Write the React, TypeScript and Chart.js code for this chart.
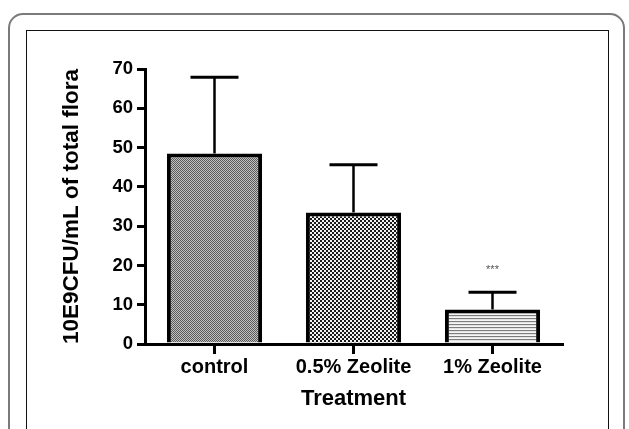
import React, { useEffect, useRef } from "react";
import { Chart, registerables } from "chart.js";

Chart.register(...registerables);

const categories = ["control", "0.5% Zeolite", "1% Zeolite"];
const means = [48.5, 33.5, 8.8];
const errors = [19.4, 12.1, 4.4];
const significance = ["", "", "***"];
const yTicks = [0, 10, 20, 30, 40, 50, 60, 70];
const yTitle = "10E9CFU/mL of total flora";
const xTitle = "Treatment";

const FONT = "'Liberation Sans', Arial, Helvetica, sans-serif";

function makePattern(kind: number): CanvasPattern | string {
  const c = document.createElement("canvas");
  if (kind === 0) {
    c.width = 2;
    c.height = 2;
    const ctx = c.getContext("2d")!;
    ctx.fillStyle = "#c2c2c2";
    ctx.fillRect(0, 0, 2, 2);
    ctx.fillStyle = "#5a5a5a";
    ctx.fillRect(0, 0, 1, 1);
    ctx.fillRect(1, 1, 1, 1);
    return ctx.createPattern(c, "repeat") || "#999";
  }
  if (kind === 1) {
    c.width = 4;
    c.height = 4;
    const ctx = c.getContext("2d")!;
    ctx.fillStyle = "#f2f2f2";
    ctx.fillRect(0, 0, 4, 4);
    ctx.fillStyle = "#1a1a1a";
    ctx.fillRect(0, 0, 2, 2);
    ctx.fillRect(2, 2, 2, 2);
    return ctx.createPattern(c, "repeat") || "#888";
  }
  c.width = 1;
  c.height = 3;
  const ctx = c.getContext("2d")!;
  ctx.fillStyle = "#f6f6f6";
  ctx.fillRect(0, 0, 1, 3);
  ctx.fillStyle = "#7c7c7c";
  ctx.fillRect(0, 0, 1, 1);
  ctx.fillStyle = "#e2e2e2";
  ctx.fillRect(0, 1, 1, 1);
  return ctx.createPattern(c, "repeat") || "#ddd";
}

const errorBarPlugin = {
  id: "errorBars",
  afterDatasetsDraw(chart: any) {
    const meta = chart.getDatasetMeta(0);
    const yScale = chart.scales.y;
    const ctx = chart.ctx;
    ctx.save();
    ctx.strokeStyle = "#000";
    meta.data.forEach((el: any, i: number) => {
      const x = el.x;
      const yBar = el.y;
      const yTop = yScale.getPixelForValue(means[i] + errors[i]);
      ctx.lineWidth = 2.5;
      ctx.beginPath();
      ctx.moveTo(x, yBar);
      ctx.lineTo(x, yTop);
      ctx.stroke();
      ctx.lineWidth = 3;
      ctx.beginPath();
      ctx.moveTo(x - 24, yTop);
      ctx.lineTo(x + 24, yTop);
      ctx.stroke();
      if (significance[i]) {
        ctx.fillStyle = "#555";
        ctx.font = `11px ${FONT}`;
        ctx.textAlign = "center";
        ctx.textBaseline = "middle";
        ctx.fillText(significance[i], x, yTop - 22);
      }
    });
    ctx.restore();
  },
};

export default function App() {
  const ref = useRef<HTMLCanvasElement | null>(null);

  useEffect(() => {
    if (!ref.current) return;
    const patterns = categories.map((_, i) => makePattern(i));
    const chart = new Chart(ref.current, {
      type: "bar",
      data: {
        labels: categories,
        datasets: [
          {
            data: means,
            backgroundColor: patterns as any,
            borderColor: "#000",
            borderWidth: 4,
            categoryPercentage: 1,
            barPercentage: 0.685,
          },
        ],
      },
      options: {
        animation: false,
        responsive: false,
        maintainAspectRatio: false,
        layout: { padding: { left: 0, right: 67, top: 69, bottom: 0 } },
        plugins: {
          legend: { display: false },
          tooltip: { enabled: false },
        },
        scales: {
          x: {
            type: "category",
            offset: true,
            grid: {
              offset: false,
              drawOnChartArea: false,
              drawTicks: true,
              tickLength: 10,
              lineWidth: 3,
              color: "#000",
            },
            border: { display: true, width: 3, color: "#000" },
            ticks: {
              color: "#000",
              padding: 1,
              font: { family: FONT, size: 20, weight: "bold" },
              maxRotation: 0,
            },
            title: {
              display: true,
              text: xTitle,
              color: "#000",
              font: { family: FONT, size: 22, weight: "bold" },
              padding: { top: 0, bottom: 17 },
            },
            afterFit: (s: any) => {
              s.height = 85;
            },
          },
          y: {
            min: yTicks[0],
            max: yTicks[yTicks.length - 1],
            grid: {
              drawOnChartArea: false,
              drawTicks: true,
              tickLength: 8,
              lineWidth: 3,
              color: "#000",
            },
            border: { display: true, width: 3, color: "#000" },
            ticks: {
              color: "#000",
              padding: 4,
              font: { family: FONT, size: 18.5, weight: "bold" },
            },
            afterBuildTicks: (s: any) => {
              s.ticks = yTicks.map((v) => ({ value: v }));
            },
            title: {
              display: true,
              text: yTitle,
              color: "#000",
              font: { family: FONT, size: 22.5, weight: "bold" },
              padding: { top: 58, bottom: 0 },
            },
            afterFit: (s: any) => {
              s.width = 145;
            },
          },
        },
      },
      plugins: [errorBarPlugin],
    });
    return () => chart.destroy();
  }, []);

  return (
    <div
      style={{
        position: "fixed",
        left: 0,
        top: 0,
        width: 629,
        height: 429,
        overflow: "hidden",
        background: "#fff",
      }}
    >
      <div
        style={{
          position: "absolute",
          left: 8,
          top: 13,
          width: 617,
          height: 500,
          border: "2px solid #7a7a7a",
          borderRadius: 15,
          boxSizing: "border-box",
        }}
      />
      <div
        style={{
          position: "absolute",
          left: 26,
          top: 30,
          width: 583,
          height: 500,
          border: "1px solid #111",
          boxSizing: "border-box",
        }}
      />
      <canvas
        ref={ref}
        width={629}
        height={429}
        style={{ position: "absolute", left: 0, top: 0, display: "block" }}
      />
    </div>
  );
}
